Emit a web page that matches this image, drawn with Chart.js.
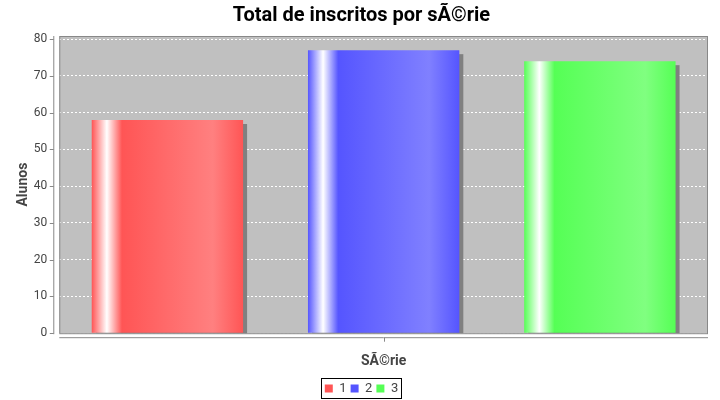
<!DOCTYPE html>
<html>
<head>
<meta charset="utf-8">
<script src="https://cdn.jsdelivr.net/npm/chart.js"></script>
<style>
    html, body { margin: 0; padding: 0; background: #fff; }
    #wrap { width: 720px; height: 400px; }
</style>
</head>
<body>
<div id="wrap"><canvas id="barChart"></canvas></div>
<script>
// chart data
const categories = [''];
const seriesNames = ['1', '2', '3'];
const seriesValues = [58, 77, 74];
const seriesColors = ['#FF5555', '#5555FF', '#55FF55'];
const seriesLight = ['#FF8080', '#8080FF', '#80FF80'];
const yTicks = [0, 10, 20, 30, 40, 50, 60, 70, 80];
const yMax = 80.85;

const textColor = '#444444';
const axisColor = '#888888';

// plot background, shadows and gradient bars (JFreeChart look)
const plotLook = {
    id: 'plotLook',
    beforeDraw(chart) {
        const { ctx, chartArea: a } = chart;
        ctx.save();
        ctx.fillStyle = '#C0C0C0';
        ctx.fillRect(a.left, a.top, a.right - a.left, a.bottom - a.top);
        ctx.restore();
    },
    beforeDatasetsDraw(chart) {
        const { ctx, chartArea: a } = chart;
        ctx.save();
        ctx.beginPath();
        ctx.rect(a.left, a.top, a.right - a.left, a.bottom - a.top);
        ctx.clip();
        ctx.fillStyle = '#808080';
        chart.data.datasets.forEach((ds, i) => {
            chart.getDatasetMeta(i).data.forEach(el => {
                const w = el.width;
                ctx.fillRect(el.x - w / 2 + 4, el.y + 4, w, el.base - el.y);
                const g = ctx.createLinearGradient(el.x - w / 2, 0, el.x + w / 2, 0);
                g.addColorStop(0, seriesColors[i]);
                g.addColorStop(0.1, '#FFFFFF');
                g.addColorStop(0.2, seriesColors[i]);
                g.addColorStop(0.8, seriesLight[i]);
                g.addColorStop(1, seriesColors[i]);
                el.options = Object.assign({}, el.options, { backgroundColor: g });
            });
        });
        ctx.restore();
    },
    afterDraw(chart) {
        const { ctx, chartArea: a, scales } = chart;
        ctx.save();
        // plot outline
        ctx.strokeStyle = axisColor;
        ctx.lineWidth = 1;
        ctx.strokeRect(a.left + 0.5, a.top + 0.5, a.right - a.left - 1, a.bottom - a.top);
        // value axis, a bit away from the plot
        const ax = a.left - 5.5;
        ctx.beginPath();
        ctx.moveTo(ax, a.top);
        ctx.lineTo(ax, a.bottom + 1);
        yTicks.forEach(t => {
            const py = Math.round(scales.y.getPixelForValue(t)) + 0.5;
            ctx.moveTo(ax - 4, py);
            ctx.lineTo(ax, py);
        });
        // category axis
        const ay = a.bottom + 4.5;
        ctx.moveTo(a.left, ay);
        ctx.lineTo(a.right, ay);
        const cx = Math.round(scales.x.getPixelForValue(0)) + 0.5;
        ctx.moveTo(cx, ay);
        ctx.lineTo(cx, ay + 4);
        ctx.stroke();
        // legend frame
        const boxes = chart.legend.legendHitBoxes;
        if (boxes && boxes.length) {
            const l = Math.min(...boxes.map(b => b.left));
            const r = Math.max(...boxes.map(b => b.left + b.width));
            const t = Math.min(...boxes.map(b => b.top));
            const btm = Math.max(...boxes.map(b => b.top + b.height));
            ctx.strokeStyle = '#000';
            ctx.strokeRect(Math.round(l - 4) + 0.5, Math.round(t - 4) + 0.5, Math.round(r - l + 7), Math.round(btm - t + 7));
        }
        ctx.restore();
    }
};

const datasets = seriesNames.map((name, i) => ({
    label: name,
    data: [seriesValues[i]],
    backgroundColor: seriesColors[i],
    borderWidth: 0
}));

new Chart(document.getElementById('barChart'), {
    type: 'bar',
    data: { labels: categories, datasets: datasets },
    plugins: [plotLook],
    options: {
        responsive: true,
        maintainAspectRatio: false,
        animation: false,
        layout: { padding: { left: 15, right: 12, top: 0, bottom: -5 } },
        datasets: { bar: { categoryPercentage: 1.0, barPercentage: 0.70 } },
        plugins: {
            title: {
                display: true,
                text: 'Total de inscritos por sÃ©rie',
                color: '#000',
                font: { family: 'Roboto', size: 20, weight: 'bold' },
                padding: { top: 4, bottom: 8 }
            },
            legend: {
                position: 'bottom',
                labels: {
                    boxWidth: 8,
                    boxHeight: 8,
                    padding: 4,
                    color: textColor,
                    font: { family: 'Roboto', size: 13 }
                }
            },
            tooltip: { enabled: false }
        },
        scales: {
            x: {
                grid: { display: false, drawTicks: false },
                border: { display: false },
                ticks: { display: false },
                title: {
                    display: true,
                    text: 'SÃ©rie',
                    color: textColor,
                    font: { family: 'Roboto', size: 14, weight: 'bold' },
                    padding: { top: 20, bottom: 8 }
                }
            },
            y: {
                min: 0,
                max: yMax,
                afterBuildTicks: (scale) => { scale.ticks = yTicks.map(v => ({ value: v })); },
                grid: {
                    color: '#FFFFFF',
                    lineWidth: 1,
                    tickLength: 10,
                    tickColor: 'rgba(0,0,0,0)'
                },
                border: { display: false, dash: [2, 2] },
                ticks: {
                    color: textColor,
                    padding: 2,
                    font: { family: 'Roboto', size: 12 }
                },
                title: {
                    display: true,
                    text: 'Alunos',
                    color: textColor,
                    font: { family: 'Roboto', size: 14, weight: 'bold' },
                    padding: { top: 0, bottom: 0 }
                }
            }
        }
    }
});
</script>
</body>
</html>
